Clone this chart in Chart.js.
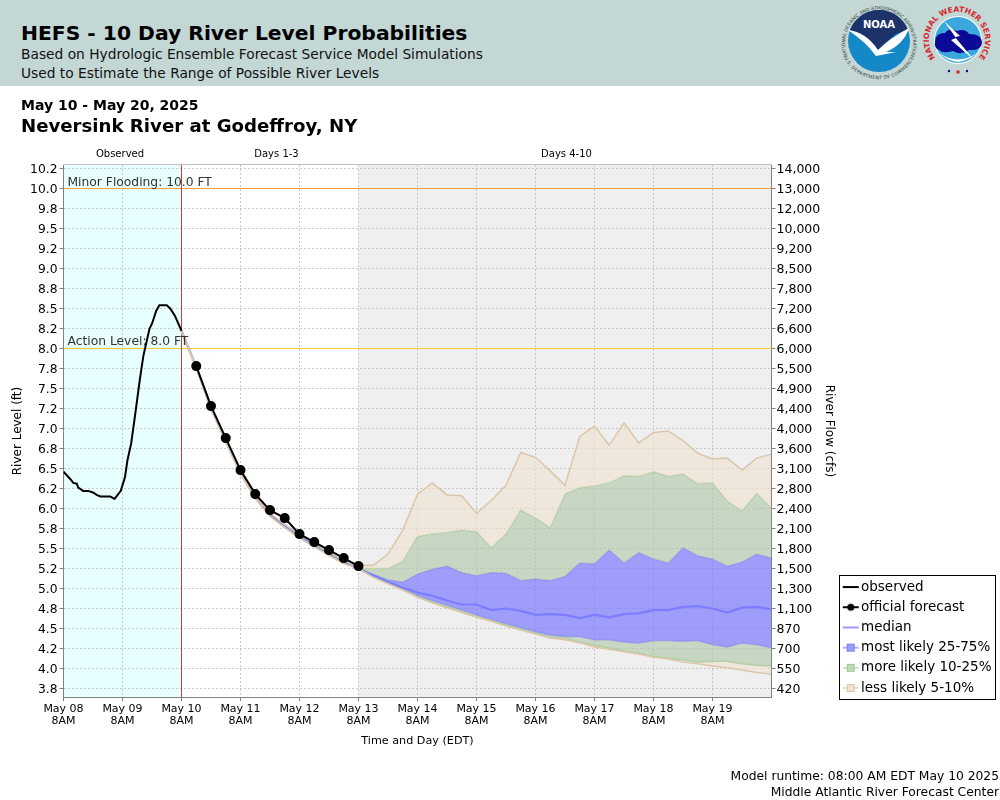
<!DOCTYPE html>
<html><head><meta charset="utf-8">
<script src="https://cdn.jsdelivr.net/npm/chart.js@4"></script>
<style>
html,body{margin:0;padding:0;background:#fff;font-family:"DejaVu Sans",sans-serif;width:1000px;height:800px;overflow:hidden}
#c{position:absolute;left:0;top:0}
.t{position:absolute;white-space:nowrap;color:#000}
#hdr{position:absolute;left:0;top:0;width:1000px;height:86px;background:#c3d7d5}
</style></head><body>
<canvas id="c" width="1000" height="800"></canvas>
<div id="hdr"></div>
<div class="t" style="left:21px;top:19px;font-size:20.3px;font-weight:bold;line-height:28px">HEFS - 10 Day River Level Probabilities</div>
<div class="t" style="left:21px;top:45px;font-size:13.77px;line-height:18px;color:#111">Based on Hydrologic Ensemble Forecast Service Model Simulations</div>
<div class="t" style="left:21px;top:64px;font-size:13.77px;line-height:18px;color:#111">Used to Estimate the Range of Possible River Levels</div>
<div class="t" style="left:21px;top:96px;font-size:14px;font-weight:bold;line-height:18px">May 10 - May 20, 2025</div>
<div class="t" style="left:21px;top:114px;font-size:18.15px;font-weight:bold;line-height:24px">Neversink River at Godeffroy, NY</div>
<div class="t" style="right:1px;top:768px;font-size:12.3px;line-height:16px">Model runtime: 08:00 AM EDT May 10 2025</div>
<div class="t" style="right:1px;top:784px;font-size:12.3px;line-height:16px">Middle Atlantic River Forecast Center</div>
<svg style="position:absolute;left:835px;top:0" width="165" height="86" viewBox="835 0 165 86">
 <defs>
  <path id="noaaTop" d="M847 55 A34 34 0 1 1 911 55"/>
  <path id="noaaBot" d="M846 52 A35 35 0 0 0 912 52"/>
  <path id="nwsRing" d="M938 60.5 A28 28 0 1 1 976 60.5"/>
 </defs>
 <circle cx="879" cy="41" r="31" fill="#1588c8"/>
 <path d="M850 30 A31 31 0 0 1 908 30 L896 34 Q886 42 878 50 Q866 36 850 30Z" fill="#1c3268"/>
 <path d="M848 30 Q866 32 878 50 Q890 38 909 28 Q904 44 886 52 L896 52 L876 56 Q866 42 848 30Z" fill="#fff"/>
 <text x="879" y="28" text-anchor="middle" font-size="10" font-weight="bold" fill="#fff" font-family="DejaVu Sans">NOAA</text>
 <text font-size="4.6" fill="#333" font-family="DejaVu Sans"><textPath href="#noaaTop" startOffset="50%" text-anchor="middle">NATIONAL OCEANIC AND ATMOSPHERIC ADMINISTRATION</textPath></text>
 <text font-size="4.6" fill="#333" font-family="DejaVu Sans" dy="4"><textPath href="#noaaBot" startOffset="50%" text-anchor="middle">U.S. DEPARTMENT OF COMMERCE</textPath></text>
 <circle cx="958" cy="40" r="24" fill="#fff"/>
 <circle cx="958" cy="40" r="23" fill="#3aa8dc"/>
 <path d="M935 42 Q935 33 945 33 Q949 27 957 31 Q965 28 969 34 Q982 34 982 43 Q981 51 969 50 Q961 56 953 51 Q943 54 939 50 Q934 48 935 42Z" fill="#0a0a96"/>
 <path d="M939 53 Q958 66 977 53 Q970 60 958 62 Q946 60 939 53Z" fill="#fff"/>
 <path d="M944 21 L960 36 L955 37 L974 60 L951 40 L956 38Z" fill="#fff"/>
 <text font-size="7.6" font-weight="bold" fill="#d8262c" font-family="DejaVu Sans"><textPath href="#nwsRing" startOffset="50%" text-anchor="middle">NATIONAL WEATHER SERVICE</textPath></text>
 <circle cx="949" cy="71" r="1.2" fill="#0a0a96"/><circle cx="967" cy="71" r="1.2" fill="#0a0a96"/>
 <circle cx="958" cy="72" r="1.8" fill="#d8262c"/>
</svg>
<script>
const observedHours=[0,3,4,5.4,6,8,10,12,13.5,15,19,20.75,23.3,25,26,27.5,29,31,32.5,35,36,37.7,39,42,43.4,45.3,48];
const observedLevels=[6.46,6.36,6.32,6.31,6.26,6.22,6.22,6.20,6.17,6.15,6.15,6.12,6.22,6.39,6.60,6.81,7.14,7.60,7.91,8.25,8.31,8.47,8.54,8.54,8.50,8.41,8.22];
const forecastHours=[54,60,66,72,78,84,90,96,102,108,114,120];
const forecastLevels=[7.78,7.28,6.88,6.48,6.18,5.98,5.88,5.68,5.58,5.48,5.38,5.28];
const bandHours=[48,54,60,66,72,78,84,90,96,102,108,114,120,126,132,138,144,150,156,162,168,174,180,186,192,198,204,210,216,222,228,234,240,246,252,258,264,270,276,282,288];
const tanUpper=[8.22,7.78,7.27,6.86,6.46,6.15,5.94,5.80,5.68,5.56,5.45,5.35,5.29,5.29,5.43,5.73,6.18,6.32,6.17,6.16,5.94,6.10,6.29,6.70,6.64,6.47,6.29,6.90,7.03,6.79,7.07,6.82,6.95,6.97,6.85,6.69,6.62,6.63,6.48,6.63,6.68];
const greenUpper=[8.22,7.77,7.26,6.85,6.45,6.14,5.93,5.79,5.66,5.55,5.44,5.34,5.25,5.25,5.25,5.34,5.65,5.68,5.70,5.73,5.71,5.51,5.68,5.98,5.88,5.76,6.18,6.26,6.28,6.32,6.41,6.40,6.46,6.40,6.43,6.31,6.32,6.09,5.97,6.19,6.00];
const blueUpper=[8.22,7.77,7.26,6.85,6.45,6.14,5.93,5.79,5.66,5.55,5.44,5.34,5.25,5.18,5.11,5.08,5.18,5.24,5.28,5.20,5.16,5.20,5.19,5.10,5.12,5.10,5.15,5.32,5.31,5.48,5.32,5.45,5.37,5.32,5.51,5.41,5.37,5.28,5.33,5.43,5.38];
const medianLevels=[8.22,7.77,7.26,6.85,6.45,6.14,5.93,5.79,5.66,5.55,5.44,5.34,5.25,5.16,5.08,5.01,4.95,4.91,4.85,4.80,4.80,4.73,4.75,4.72,4.67,4.68,4.67,4.63,4.67,4.64,4.68,4.69,4.73,4.73,4.77,4.78,4.75,4.70,4.76,4.77,4.74];
const blueLower=[8.21,7.76,7.25,6.84,6.44,6.13,5.92,5.78,5.65,5.54,5.43,5.33,5.25,5.15,5.07,5.00,4.91,4.85,4.79,4.73,4.67,4.61,4.56,4.51,4.46,4.42,4.40,4.40,4.36,4.36,4.33,4.32,4.35,4.35,4.34,4.35,4.30,4.27,4.32,4.30,4.26];
const greenLower=[8.21,7.76,7.25,6.84,6.44,6.13,5.92,5.78,5.65,5.54,5.43,5.33,5.25,5.15,5.07,4.99,4.90,4.83,4.77,4.71,4.65,4.60,4.54,4.49,4.44,4.39,4.38,4.33,4.29,4.26,4.22,4.19,4.15,4.13,4.11,4.08,4.09,4.09,4.06,4.04,4.03];
const tanLower=[8.20,7.75,7.24,6.83,6.43,6.12,5.90,5.76,5.63,5.52,5.41,5.31,5.25,5.14,5.06,4.98,4.89,4.82,4.76,4.70,4.64,4.59,4.53,4.48,4.43,4.38,4.36,4.32,4.27,4.24,4.21,4.18,4.14,4.12,4.08,4.06,4.03,4.01,3.98,3.95,3.93];
const levelTicks=[10.25,10,9.75,9.5,9.25,9,8.75,8.5,8.25,8,7.75,7.5,7.25,7,6.75,6.5,6.25,6,5.75,5.5,5.25,5,4.75,4.5,4.25,4,3.75];
const levelLabels=["10.2","10.0","9.8","9.5","9.2","9.0","8.8","8.5","8.2","8.0","7.8","7.5","7.2","7.0","6.8","6.5","6.2","6.0","5.8","5.5","5.2","5.0","4.8","4.5","4.2","4.0","3.8"];
const flowLabels=["14,000","13,000","12,000","10,000","9,200","8,500","7,800","7,200","6,600","6,000","5,500","4,900","4,400","4,000","3,600","3,100","2,800","2,400","2,100","1,800","1,500","1,300","1,100","870","700","550","420"];
const dayHours=[0,24,48,72,96,120,144,168,192,216,240,264];
const dayLabels=[["May 08","8AM"],["May 09","8AM"],["May 10","8AM"],["May 11","8AM"],["May 12","8AM"],["May 13","8AM"],["May 14","8AM"],["May 15","8AM"],["May 16","8AM"],["May 17","8AM"],["May 18","8AM"],["May 19","8AM"]];
const minorLevel=10, actionLevel=8, splitHour=48, days4Hour=120, endHour=288;
const yMin=3.64375, yMax=10.29375;

const blue='rgba(121,121,255,0.69)', green='rgba(174,199,166,0.6)', tan='rgba(239,224,207,0.6)';
const blueEdge='rgba(110,110,245,0.45)', greenEdge='rgba(170,205,160,0.9)', tanEdge='rgb(220,198,170)';
const zip=(xs,ys)=>xs.map((x,i)=>({x:x,y:ys[i]}));
function band(label,ys,edge,fillColor,order){
  return {label,data:zip(bandHours,ys),borderColor:edge,borderWidth:1.5,pointRadius:0,tension:0,
    backgroundColor:fillColor||'transparent',fill:fillColor?'+1':false,order};
}
function sample(color,kind,fillc,edge){
  const s=document.createElement('canvas');s.width=18;s.height=14;const g=s.getContext('2d');
  g.strokeStyle=color;g.lineWidth=kind==='thin'||kind==='box'?1.6:2;
  g.beginPath();g.moveTo(1,7);g.lineTo(17,7);g.stroke();
  if(kind==='dot'){g.fillStyle=color;g.beginPath();g.arc(9,7,3.5,0,7);g.fill();}
  if(kind==='box'){g.fillStyle=fillc;g.fillRect(5.5,3.5,7,7);g.strokeStyle=edge;g.lineWidth=1;g.strokeRect(5.5,3.5,7,7);}
  return s;
}
const legendItems=[
 {text:'observed',pointStyle:sample('#000','line')},
 {text:'official forecast',pointStyle:sample('#000','dot')},
 {text:'median',pointStyle:sample('#8080ff','thin')},
 {text:'most likely 25-75%',pointStyle:sample('#a0a0ff','box','#9c9cf8','#7e7ef0')},
 {text:'more likely 10-25%',pointStyle:sample('#c0dab8','box','#bdd8b4','#a4c89a')},
 {text:'less likely 5-10%',pointStyle:sample('#e8d6c0','box','#efe2d2','#dcc4a8')}
].map(o=>Object.assign(o,{fontColor:'#000',lineWidth:0,strokeStyle:'transparent',fillStyle:'transparent',hidden:false}));

const deco={
 id:'deco',
 beforeDraw(ch){
  const {ctx,chartArea:a,scales:{x}}=ch;
  ctx.save();
  ctx.fillStyle='#e8ffff';ctx.fillRect(a.left,a.top,x.getPixelForValue(splitHour)-a.left,a.height);
  ctx.fillStyle='#efefef';const g=x.getPixelForValue(days4Hour);ctx.fillRect(g,a.top,x.getPixelForValue(endHour)-g,a.height);
  ctx.restore();
 },
 afterLayout(ch){
  const l=ch.legend;l.left=840.55;l.top=573.6;l.right=999;l.bottom=720;l.width=158;l.height=146;
 },
 afterDraw(ch){
  const {ctx,chartArea:a,scales:{x,y}}=ch;
  ctx.save();
  ctx.strokeStyle='#c0c0c0';ctx.lineWidth=1;ctx.beginPath();ctx.moveTo(a.left,a.top-.5);ctx.lineTo(a.right,a.top-.5);ctx.stroke();
  ctx.fillStyle='#333';ctx.font='12.3px "DejaVu Sans"';ctx.textBaseline='alphabetic';ctx.textAlign='left';
  ctx.fillText('Minor Flooding: 10.0 FT',a.left+4,y.getPixelForValue(minorLevel)-3);
  ctx.fillText('Action Level: 8.0 FT',a.left+4,y.getPixelForValue(actionLevel)-3.5);
  ctx.fillStyle='#000';ctx.font='10px "DejaVu Sans"';ctx.textAlign='center';
  ctx.fillText('Observed',x.getPixelForValue(24)-2.5,a.top-8);
  ctx.fillText('Days 1-3',x.getPixelForValue(84)+6.5,a.top-8);
  ctx.fillText('Days 4-10',x.getPixelForValue(204)+1.5,a.top-8);
  ctx.strokeStyle='#000';ctx.lineWidth=1;ctx.strokeRect(839.5,575.5,156,124);
  ctx.restore();
 }
};
new Chart(document.getElementById('c'),{
 type:'line',
 plugins:[deco],
 data:{datasets:[
  band('less likely upper',tanUpper,tanEdge,tan,1),
  band('more likely upper',greenUpper,greenEdge,green,3),
  band('most likely upper',blueUpper,blueEdge,blue,4),
  band('most likely lower',blueLower,blueEdge,green,4),
  band('more likely lower',greenLower,greenEdge,tan,3),
  band('less likely lower',tanLower,tanEdge,null,1),
  {label:'median',data:zip(bandHours,medianLevels),borderColor:'rgba(120,120,255,0.9)',borderWidth:2.2,pointRadius:0,fill:false,order:1.5},
  {label:'official forecast',data:zip(forecastHours,forecastLevels),borderColor:'#000',backgroundColor:'#000',borderWidth:2,pointRadius:4,pointHoverRadius:4,fill:false,order:0},
  {label:'observed',data:zip(observedHours,observedLevels),borderColor:'#000',borderWidth:2,pointRadius:0,fill:false,order:0},
  {label:'Minor Flooding',data:zip([0,endHour],[minorLevel,minorLevel]),borderColor:'#f7a13c',borderWidth:1,pointRadius:0,fill:false,order:6},
  {label:'Action Level',data:zip([0,endHour],[actionLevel,actionLevel]),borderColor:'#f7ca2e',borderWidth:1,pointRadius:0,fill:false,order:6},
  {label:'Forecast start',data:zip([splitHour,splitHour],[yMin,yMax]),borderColor:'#d23a32',borderWidth:1,pointRadius:0,fill:false,order:5}
 ]},
 options:{
  responsive:false,animation:false,devicePixelRatio:1,
  layout:{padding:{left:0,right:163.5,top:165,bottom:48}},
  plugins:{
   tooltip:{enabled:false},title:{display:false},
   legend:{display:true,position:'chartArea',align:'start',
    labels:{usePointStyle:true,pointStyleWidth:7,padding:6.7,color:'#000',font:{family:'"DejaVu Sans"',size:13.5},
     generateLabels:()=>legendItems}}
  },
  scales:{
   x:{type:'linear',min:0,max:endHour,
    afterFit(s){s.height=55;},
    afterBuildTicks(s){s.ticks=dayHours.map(v=>({value:v}));},
    ticks:{autoSkip:false,maxRotation:0,padding:2,color:'#000',font:{family:'"DejaVu Sans"',size:11,lineHeight:1.1},
     callback:(v)=>dayLabels[dayHours.indexOf(v)]},
    grid:{color:'#c8c8c8',tickColor:'#808080',tickLength:4,tickBorderDash:[]},
    border:{color:'#808080',dash:[2,2]},
    title:{display:true,text:'Time and Day (EDT)',color:'#000',font:{family:'"DejaVu Sans"',size:11.2},padding:{top:0,bottom:4}}},
   y:{type:'linear',position:'left',min:yMin,max:yMax,
    afterFit(s){s.width=63.5;},
    afterBuildTicks(s){s.ticks=levelTicks.map(v=>({value:v}));},
    ticks:{autoSkip:false,padding:2,labelOffset:1.5,color:'#000',font:{family:'"DejaVu Sans"',size:12.3},callback:(v)=>levelLabels[levelTicks.indexOf(v)]},
    grid:{color:'#c8c8c8',tickColor:'#808080',tickLength:4,tickBorderDash:[]},
    border:{color:'#808080',dash:[2,2]},
    title:{display:true,text:'River Level (ft)',color:'#000',font:{family:'"DejaVu Sans"',size:12},padding:{top:11,bottom:0}}},
   y1:{type:'linear',position:'right',min:yMin,max:yMax,
    afterFit(s){s.width=65;},
    afterBuildTicks(s){s.ticks=levelTicks.map(v=>({value:v}));},
    ticks:{autoSkip:false,padding:1,labelOffset:1.5,color:'#000',font:{family:'"DejaVu Sans"',size:12.5},callback:(v)=>flowLabels[levelTicks.indexOf(v)]},
    grid:{drawOnChartArea:false,tickColor:'#808080',tickLength:4},
    border:{color:'#808080'},
    title:{display:true,text:'River Flow (cfs)',color:'#000',font:{family:'"DejaVu Sans"',size:12},padding:{top:0,bottom:0}}}
  }
 }
});
</script>
</body></html>
